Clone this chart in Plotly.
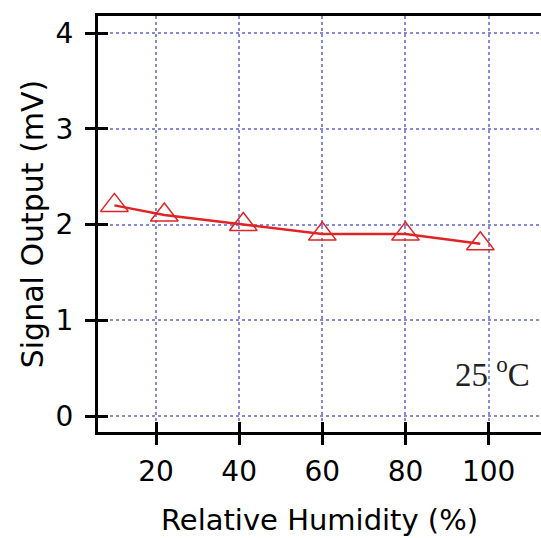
import plotly.graph_objects as go

# Data
relative_humidity = [10, 22, 41, 60, 80, 98]
signal_output_mv = [2.2, 2.1, 2.0, 1.9, 1.9, 1.8]

x_tick_vals = [20, 40, 60, 80, 100]
x_tick_text = ["20", "40", "60", "80", "100"]
y_tick_vals = [0, 1, 2, 3, 4]
y_tick_text = ["0", "1", "2", "3", "4"]

x_range = [6.05, 112.6]
y_range = [-0.167, 4.178]

FONT = "DejaVu Sans"
GRID = "#8888d8"
RED = "#e02424"

fig = go.Figure()
fig.add_trace(go.Scatter(
    x=relative_humidity, y=signal_output_mv,
    mode="lines+markers",
    line=dict(color=RED, width=2.5),
    marker=dict(symbol="triangle-up-open", size=24,
                color=RED, line=dict(color=RED, width=1.5)),
    showlegend=False, hoverinfo="skip",
))
# invisible trace carrying the overlay axes (inner half of the crossing ticks)
fig.add_trace(go.Scatter(
    x=relative_humidity, y=signal_output_mv, xaxis="x2", yaxis="y2",
    mode="markers", marker=dict(opacity=0), showlegend=False, hoverinfo="skip",
))

tick_font = dict(family=FONT, size=28, color="black")

fig.update_layout(
    width=541, height=538,
    margin=dict(l=98, r=0, t=16, b=106),
    paper_bgcolor="white", plot_bgcolor="white",
    xaxis=dict(
        range=x_range, tickvals=x_tick_vals, ticktext=x_tick_text,
        ticks="outside", ticklen=10, tickwidth=3, tickcolor="black",
        showline=True, linewidth=3, linecolor="black", mirror=True,
        showgrid=True, gridcolor=GRID, gridwidth=1.5, griddash="dot",
        zeroline=False, tickfont=tick_font, ticklabelstandoff=2,
        title=dict(text="Relative Humidity (%)",
                   font=dict(family=FONT, size=29, color="black"), standoff=24),
    ),
    yaxis=dict(
        range=y_range, tickvals=y_tick_vals, ticktext=y_tick_text,
        ticks="outside", ticklen=10, tickwidth=3, tickcolor="black",
        showline=True, linewidth=3, linecolor="black",
        showgrid=True, gridcolor=GRID, gridwidth=1.5, griddash="dot",
        zeroline=False, tickfont=tick_font, ticklabelstandoff=6,
        title=dict(text="Signal Output (mV)",
                   font=dict(family=FONT, size=30, color="black"), standoff=4),
    ),
    xaxis2=dict(
        overlaying="x", anchor="y2", range=x_range, tickvals=x_tick_vals,
        ticks="inside", ticklen=10, tickwidth=3, tickcolor="black",
        showticklabels=False, showgrid=False, showline=False, zeroline=False,
    ),
    yaxis2=dict(
        overlaying="y", anchor="x2", side="left", range=y_range, tickvals=y_tick_vals,
        ticks="inside", ticklen=10, tickwidth=3, tickcolor="black",
        showticklabels=False, showgrid=False, showline=False, zeroline=False,
    ),
    annotations=[dict(
        text="25 <sup>o</sup>C", xref="paper", yref="paper",
        x=0.98, y=0.145, xanchor="right", yanchor="middle",
        showarrow=False,
        font=dict(family="Liberation Serif", size=33, color="#222222"),
    )],
)

fig.write_html(
    "out.html",
    config={"displayModeBar": False},
    post_script="document.body.style.margin='0';"
                "document.documentElement.style.overflow='hidden';",
)
